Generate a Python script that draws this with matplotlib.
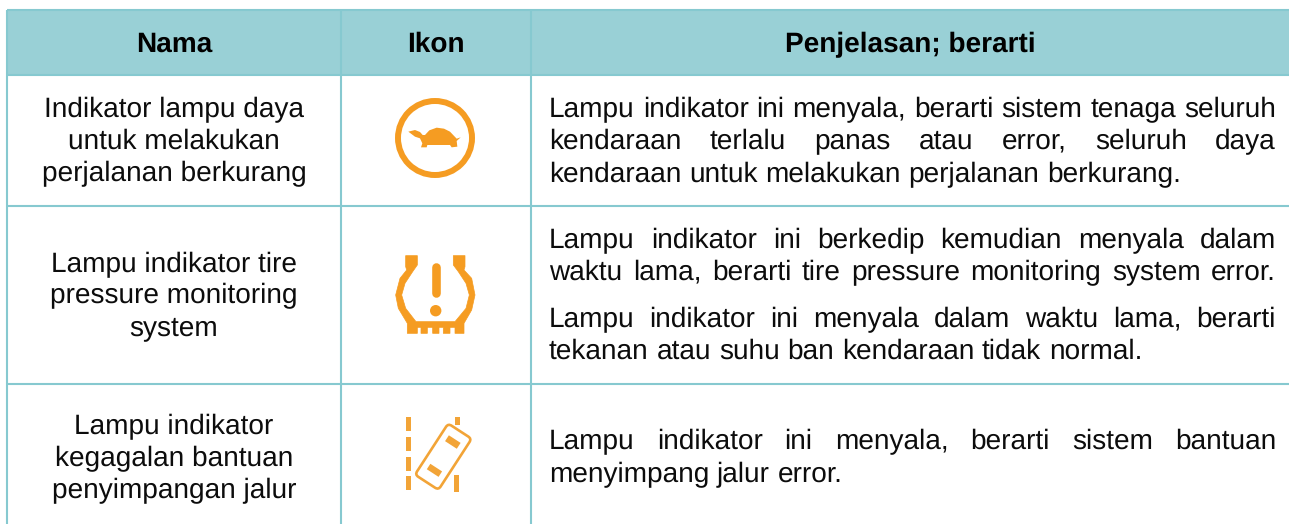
import math
import matplotlib
matplotlib.use("Agg")
import matplotlib.pyplot as plt
from matplotlib.font_manager import FontProperties
from matplotlib.patches import Rectangle, Circle, Polygon, FancyBboxPatch
from matplotlib.transforms import Affine2D

plt.rcParams["text.hinting"] = "no_hinting"
plt.rcParams["text.hinting_factor"] = 1

W, H = 1289, 524
TEAL = "#99d0d6"
LINE = "#86c9d0"
ORANGE = "#f59c22"
LANE_ORANGE = "#f2a437"
FONT = "Liberation Sans"
SIZE = 19.9

headers = ["Nama", "Ikon", "Penjelasan; berarti"]
col_x = [7, 341, 531, 1289]
row_y = [10, 75, 205.5, 384, 524]

names = [
    ["Indikator lampu daya", "untuk melakukan", "perjalanan berkurang"],
    ["Lampu indikator tire", "pressure monitoring", "system"],
    ["Lampu indikator", "kegagalan bantuan", "penyimpangan jalur"],
]
name_y = [[117, 149, 181], [272, 303, 336], [434, 466, 498]]

# (text, baseline y, justified?)
desc = [
    ("Lampu indikator ini menyala, berarti sistem tenaga seluruh", 117, True),
    ("kendaraan terlalu panas atau error, seluruh daya", 149, True),
    ("kendaraan untuk melakukan perjalanan berkurang.", 182, False),
    ("Lampu indikator ini berkedip kemudian menyala dalam", 248, True),
    ("waktu lama, berarti tire pressure monitoring system error.", 280, True),
    ("Lampu indikator ini menyala dalam waktu lama, berarti", 327, True),
    ("tekanan atau suhu ban kendaraan tidak normal.", 359, False),
    ("Lampu indikator ini menyala, berarti sistem bantuan", 449, True),
    ("menyimpang jalur error.", 482, False),
]
TEXT_L, TEXT_R = 549, 1276

turtle_xy = [(205, 155), (225, 150), (240, 156), (248, 165), (255, 165), (268, 151), (290, 143), (312, 146),
             (330, 155), (350, 176), (362, 172), (350, 183), (352, 200), (335, 202), (330, 195), (262, 195),
             (260, 202), (243, 202), (247, 190), (240, 175), (225, 170)]
tire_xy = [(197, 107), (197, 140), (200, 150), (180, 175), (167, 225), (175, 265), (202, 310), (202, 340),
           (232, 340), (232, 322), (243, 322), (243, 340), (262, 340), (262, 322), (278, 322), (278, 340),
           (297, 340), (297, 322), (310, 322), (310, 340), (330, 340), (330, 322), (345, 322), (345, 340),
           (372, 340), (372, 310), (395, 270), (405, 225), (395, 175), (372, 150), (375, 140), (375, 107),
           (340, 107), (340, 135), (355, 155), (378, 190), (388, 225), (378, 265), (345, 305), (228, 305),
           (197, 265), (185, 225), (195, 190), (218, 155), (232, 135), (232, 107)]

fig = plt.figure(figsize=(W / 100, H / 100), dpi=100)
ax = fig.add_axes([0, 0, 1, 1])
ax.set_xlim(0, W)
ax.set_ylim(H, 0)
ax.axis("off")

fig.canvas.draw()
rend = fig.canvas.get_renderer()
prop = FontProperties(family=FONT, size=SIZE)

def word_w(s):
    t = ax.text(0, 0, s, family=FONT, fontsize=SIZE)
    w = t.get_window_extent(rend).width
    t.remove()
    return w

def flat_y(s, y):
    # agg places a text bitmap by its rounded bottom edge, so baselines of
    # separate words differ by a pixel unless the bitmap size is allowed for
    _, h, d = rend.get_text_width_height_descent(s, prop, False)
    return y + math.trunc(h) - math.trunc(h - d) - d

# table
ax.add_patch(Rectangle((col_x[0], row_y[0]), col_x[-1] - col_x[0], row_y[1] - row_y[0], fc=TEAL, ec="none"))
for x in col_x[:-1]:
    ax.plot([x, x], [row_y[0], H], color=LINE, lw=1.5, solid_capstyle="butt")
for y in row_y[:-1]:
    ax.plot([col_x[0], W], [y, y], color=LINE, lw=1.5, solid_capstyle="butt")

for i, h in enumerate(headers):
    ax.text((col_x[i] + col_x[i + 1]) / 2, 52, h, ha="center", va="baseline",
            family=FONT, weight="bold", fontsize=SIZE, color="black")

for lines, ys in zip(names, name_y):
    for s, y in zip(lines, ys):
        ax.text(174, flat_y(s, y), s, ha="center", va="baseline", family=FONT, fontsize=SIZE, color="#0c0c0c")

# justified description lines, one word at a time
space = word_w("a a") - word_w("aa")
for s, y, just in desc:
    words = s.split(" ")
    widths = [word_w(w) for w in words]
    gap = (TEXT_R - TEXT_L - sum(widths)) / (len(words) - 1) if just else space
    x = TEXT_L
    for w, wd in zip(words, widths):
        ax.text(x, flat_y(w, y), w, ha="left", va="baseline", family=FONT, fontsize=SIZE, color="#0c0c0c")
        x += wd + gap

# turtle icon
ax.add_patch(Circle((435, 138), 37, fc="none", ec=ORANGE, lw=4.3))
ax.add_patch(Polygon([(340 + a / 3, 80 + b / 3) for a, b in turtle_xy], fc=ORANGE, ec="none"))

# tire pressure icon
ax.add_patch(Polygon([(340 + a / 3, 220 + b / 3) for a, b in tire_xy], fc=ORANGE, ec=ORANGE, lw=0.5, joinstyle="round"))
ax.plot([435.7, 435.7], [267, 293], color=ORANGE, lw=6.2, solid_capstyle="round")
ax.add_patch(Circle((435.7, 310.7), 5.7, fc=ORANGE, ec="none"))

# lane icon
for y0, y1 in [(417, 431), (437, 451), (457, 471), (476, 490)]:
    ax.add_patch(Rectangle((405.7, y0), 5.3, y1 - y0, fc=LANE_ORANGE, ec="none"))
ax.add_patch(Rectangle((455, 417), 5, 8, fc=LANE_ORANGE, ec="none"))
ax.add_patch(Rectangle((454, 475), 5, 17, fc=LANE_ORANGE, ec="none"))
cx, cy = 443.3, 456.7
rot = Affine2D().rotate_deg_around(cx, cy, 33) + ax.transData
ax.add_patch(FancyBboxPatch((cx - 14, cy - 30.5), 28, 61, boxstyle="round,pad=0,rounding_size=4",
                            fc="none", ec=LANE_ORANGE, lw=1.9, transform=rot))
ax.add_patch(Rectangle((cx - 7, cy - 21), 14, 7, fc=LANE_ORANGE, ec="none", transform=rot))
ax.add_patch(Rectangle((cx - 7, cy + 13), 14, 6.5, fc=LANE_ORANGE, ec="none", transform=rot))

fig.savefig("out.png", dpi=100)
